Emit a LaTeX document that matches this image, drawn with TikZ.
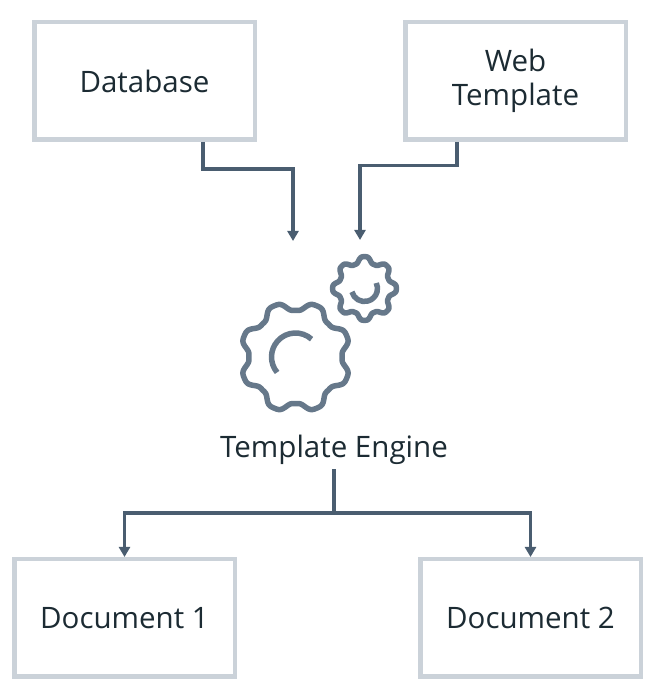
\documentclass[tikz,border=0pt]{standalone}
\usepackage{fontspec}
\setmainfont{Open Sans}
\usetikzlibrary{arrows.meta}
\definecolor{boxline}{HTML}{CBD2D9}
\definecolor{arrowline}{HTML}{4A5D70}
\definecolor{gearline}{HTML}{66788A}
\definecolor{labeltext}{HTML}{1C2B33}
\tikzset{
	blockbox/.style={draw=boxline, line width=0.09cm, minimum width=4.41cm, minimum height=2.35cm, align=center, text=labeltext, font=\fontsize{16.8}{19.4}\selectfont},
	flowline/.style={draw=arrowline, line width=0.066cm},
	flowarrow/.style={flowline, -{Triangle[width=0.22cm,length=0.2cm]}},
	gearstroke/.style={draw=gearline, line width=0.11cm, line cap=round, line join=round}
}
\begin{document}
\begin{tikzpicture}
	\useasboundingbox (0,0) rectangle (13.34,13.88);
	% boxes
	\node[blockbox] (database) at (2.89,12.26) {Database};
	\node[blockbox] (webtemplate) at (10.31,12.26) {Web\\Template};
	\node[blockbox] (doca) at (2.49,1.52) {Document 1};
	\node[blockbox] (docb) at (10.61,1.52) {Document 2};
	\node[text=labeltext, font=\fontsize{16.8}{19.4}\selectfont, minimum height=0.78cm, inner sep=0] (engine) at (6.68,4.89) {Template Engine};
	% free ends
	\coordinate (dbend) at (5.86,9.06);
	\coordinate (webend) at (7.2,9.08);
	\coordinate (split) at (6.68,3.62);
	% connectors
	\draw[flowarrow] ([xshift=1.17cm]database.south) -- ++(0,-0.54) -| (dbend);
	\draw[flowarrow] ([xshift=-1.17cm]webtemplate.south) -- ++(0,-0.47) -| (webend);
	\draw[flowline] (engine.south) -- (split);
	\draw[flowarrow] (split) -| (doca.north);
	\draw[flowarrow] (split) -| (docb.north);
	% big gear
	\draw[gearstroke, domain=0:360, samples=241] plot ({5.91 + 0.02*(51 + 5*(cos(8*\x+180) - 0.12*cos(3*(8*\x+180))))*cos(\x+90)}, {6.74 + 0.02*(51 + 5*(cos(8*\x+180) - 0.12*cos(3*(8*\x+180))))*sin(\x+90)}) -- cycle;
	\draw[gearstroke, line cap=butt] (5.91,6.74) ++(48:0.48) arc (48:220:0.48);
	% small gear
	\draw[gearstroke, domain=0:360, samples=241] plot ({7.29 + 0.02*(28.8 + 3.4*(cos(8*\x) - cos(3*8*\x)/9))*cos(\x+90)}, {8.11 + 0.02*(28.8 + 3.4*(cos(8*\x) - cos(3*8*\x)/9))*sin(\x+90)}) -- cycle;
	\draw[gearstroke, line cap=butt] (7.29,8.11) ++(195:0.26) arc (195:385:0.26);
\end{tikzpicture}
\end{document}
